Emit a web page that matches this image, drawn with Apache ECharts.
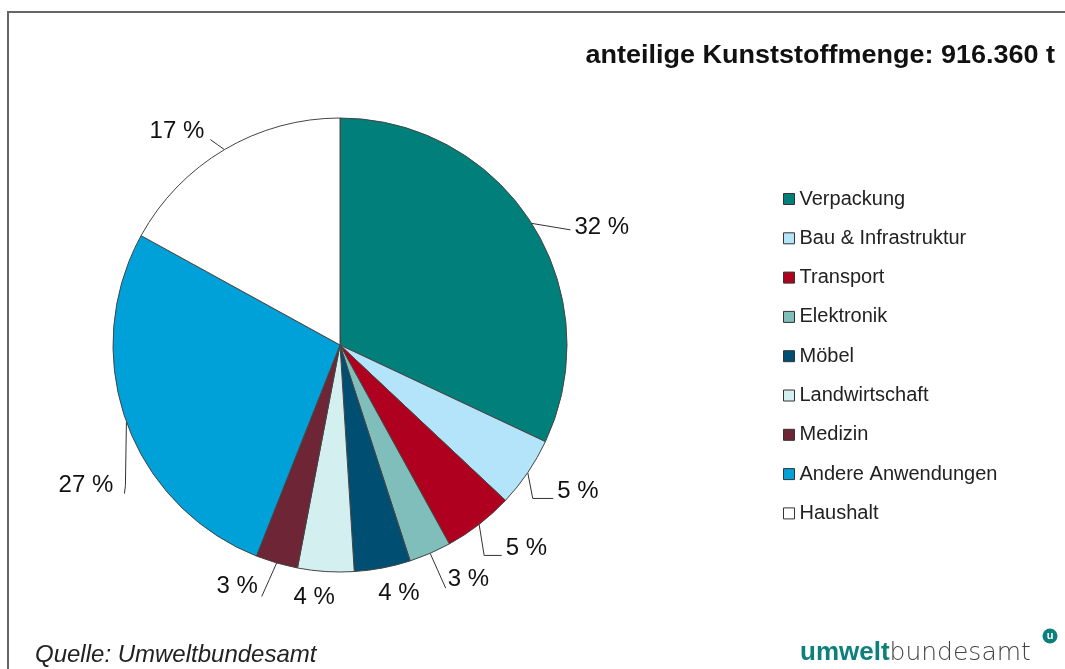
<!DOCTYPE html>
<html>
<head>
<meta charset="utf-8">
<script src="https://cdn.jsdelivr.net/npm/echarts@6/dist/echarts.min.js"></script>
<style>
  html, body { margin: 0; padding: 0; background: #fff; }
  #chart { width: 1065px; height: 669px; }
</style>
</head>
<body>
<div id="chart"></div>
<script>
// Anteile nach Anwendungsbereich (%)
const categories = ['Verpackung', 'Bau & Infrastruktur', 'Transport', 'Elektronik', 'Möbel',
  'Landwirtschaft', 'Medizin', 'Andere Anwendungen', 'Haushalt']
const shares = [32, 5, 5, 3, 4, 4, 3, 27, 17]
const colors = ['#007f7b', '#b3e4f9', '#b0001f', '#80bebb', '#004f73',
  '#d4efef', '#6e2535', '#00a1d9', '#ffffff']
// label nudges (dx, dy) so labels sit like in the original
const nudge = [[13, 12], [0, 11], [0, 13], [-6, 13], [-25, 12], [28, 12], [3, 10], [18, 59], [5, -6]]
// how the leader line meets the label: 'h' horizontal to left side, 'bl' bottom-left,
// 'br' bottom-right, 'v' vertical then to right side, 'r' right side, null = no line
const lineKind = ['h0', 'h', 'h', 'bl', null, null, 'br', 'v', 'r']

const chart = echarts.init(document.getElementById('chart'))
const font = 'Liberation Sans, Arial, sans-serif'

function leader(params) {
  const i = params.dataIndex
  const d = nudge[i]
  const r = params.labelRect
  const x = r.x + d[0], y = r.y + d[1], w = r.width, h = r.height
  const cy = y + h / 2
  const p0 = params.labelLinePoints[0]
  let end, mid
  switch (lineKind[i]) {
    case 'h0': end = [x - 4, cy + 2]; mid = [(p0[0] + end[0]) / 2, (p0[1] + end[1]) / 2]; break
    case 'h': end = [x - 4, cy + 7]; mid = [p0[0] + 5, cy + 7]; break
    case 'bl': end = [x - 2, y + h - 3]; mid = [(p0[0] + end[0]) / 2, (p0[1] + end[1]) / 2]; break
    case 'br': end = [x + w + 4, y + h - 2]; mid = [(p0[0] + end[0]) / 2, (p0[1] + end[1]) / 2]; break
    case 'v': end = [p0[0] - 2, cy + 8]; mid = [p0[0] - 1, cy]; break
    case 'r': end = [x + w + 6, cy + 8]; mid = [(p0[0] + end[0]) / 2, (p0[1] + end[1]) / 2]; break
    default: end = p0; mid = p0
  }
  return { dx: d[0], dy: d[1], labelLinePoints: [p0, mid, end] }
}

chart.setOption({
  animation: false,
  legend: {
    orient: 'vertical',
    left: 778,
    top: 184,
    itemWidth: 11,
    itemHeight: 11,
    itemGap: 19.3,
    icon: 'rect',
    selectedMode: false,
    data: categories,
    itemStyle: { borderColor: '#333', borderWidth: 1 },
    textStyle: { fontFamily: font, fontSize: 20, lineHeight: 20, color: '#222' }
  },
  graphic: [
    // Rahmen
    { type: 'polyline', shape: { points: [[8, 669], [8, 12], [1065, 12]] },
      style: { stroke: '#666', lineWidth: 2, fill: null } },
    { type: 'text', x: 1055, y: 56, scaleX: 1.08,
      style: { text: 'anteilige Kunststoffmenge: 916.360 t', font: 'bold 25px ' + font,
        fill: '#111', align: 'right', verticalAlign: 'middle' } },
    { type: 'text', left: 35, top: 643,
      style: { text: 'Quelle: Umweltbundesamt', font: 'italic 24px ' + font, fill: '#222' } },
    { type: 'text', left: 800, top: 640,
      style: {
        text: '{a|umwelt}{b|bundesamt}',
        rich: {
          a: { fontFamily: font, fontSize: 26, fontWeight: 'bold', fill: '#0e807c' },
          b: { fontFamily: 'DejaVu Sans', fontSize: 25, fontWeight: 200, fill: '#444' }
        }
      } },
    { type: 'circle', shape: { cx: 1050, cy: 636, r: 7.5 }, style: { fill: '#0e807c' } },
    { type: 'text', x: 1050, y: 636,
      style: { text: 'u', font: 'bold 11px ' + font, fill: '#fff', align: 'center', verticalAlign: 'middle' } }
  ],
  series: [{
    type: 'pie',
    center: [340, 345],
    radius: 227,
    startAngle: 90,
    clockwise: true,
    avoidLabelOverlap: false,
    itemStyle: { borderColor: '#444', borderWidth: 1 },
    label: {
      show: true,
      formatter: '{c} %',
      fontFamily: font,
      fontSize: 24,
      color: '#111',
      distanceToLabelLine: 4
    },
    labelLine: {
      show: true,
      length: 14,
      length2: 14,
      lineStyle: { color: '#333', width: 1 }
    },
    labelLayout: leader,
    emphasis: { disabled: true },
    data: categories.map((name, i) => ({
      name: name,
      value: shares[i],
      itemStyle: { color: colors[i] },
      labelLine: { show: lineKind[i] !== null }
    }))
  }]
})
</script>
</body>
</html>
